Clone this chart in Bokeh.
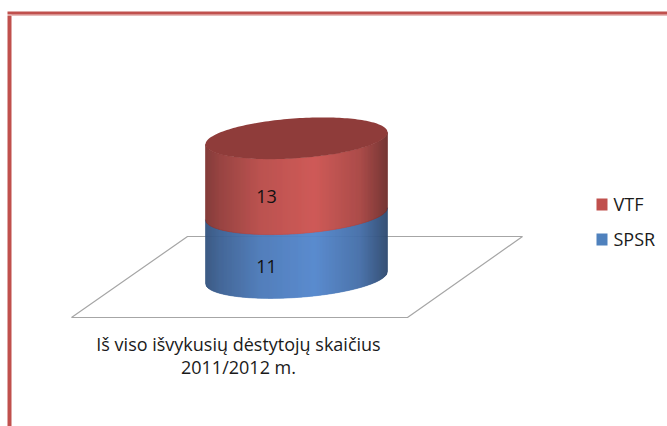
import numpy as np
from bokeh.plotting import figure
from bokeh.embed import file_html
from bokeh.resources import INLINE
from bokeh.models import Range1d
from bokeh.core.properties import value

category = ["Iš viso išvykusių dėstytojų skaičius", "2011/2012 m."]
series = ["SPSR", "VTF"]
values = [11, 13]
base_colors = [(84, 135, 205), (205, 84, 81)]
top_color = "#8f3c3a"
legend_colors = ["#4f81bd", "#c0504d"]

W, H = 667, 426
PX_PER_UNIT = 5.8
FONT = "Open Sans"
FS = "18px"

# pixel space of the page -> data space: x is page pixels, y is value units
BASE_PX = 277.0
def Y(px):
    return (BASE_PX - px) / PX_PER_UNIT

p = figure(width=W, height=H, output_backend="svg", toolbar_location=None,
           x_range=Range1d(0, 667), y_range=Range1d(Y(426), Y(0)),
           min_border=0, outline_line_color=None, tools="")
p.axis.visible = False
p.grid.visible = False
p.background_fill_color = "white"
p.border_fill_color = "white"

# frame
p.quad(left=[7], right=[11], bottom=[Y(426)], top=[Y(15)], fill_color="#c0504d", line_color=None)
p.quad(left=[7], right=[667], bottom=[Y(14)], top=[Y(11)], fill_color="#c0504d", line_color=None)
p.quad(left=[11], right=[667], bottom=[Y(15)], top=[Y(14)], fill_color="#d27b78", line_color=None)

# floor
fx = [187, 522, 407, 71, 187]
fy = [Y(v) for v in [236, 236, 317, 317, 236]]
p.line(fx, fy, line_color="#a6a6a6", line_width=1.2)

# cylinder
CX, A, B, S = 296.0, 91.0, 20.0, -0.066
xs_px = np.arange(CX - A, CX + A + 0.01, 1.0)
def shade(t):
    return np.interp(t, [0, 0.08, 0.3, 0.6, 0.85, 1], [0.62, 0.72, 0.9, 1.0, 0.82, 0.55])
def front(dx):
    return (-S * dx - B * np.sqrt(np.clip(1 - (dx / A) ** 2, 0, 1))) / PX_PER_UNIT

level = 0.0
for val, col in zip(values, base_colors):
    sx, sy, sc = [], [], []
    for x0, x1 in zip(xs_px[:-1], xs_px[1:]):
        d0, d1 = x0 - CX, x1 - CX
        t = ((x0 + x1) / 2 - xs_px[0]) / (2 * A)
        k = shade(t)
        sx.append([x0, x1, x1, x0])
        sy.append([level + front(d0), level + front(d1),
                   level + val + front(d1), level + val + front(d0)])
        sc.append("#%02x%02x%02x" % tuple(int(c * k) for c in col))
    p.patches(sx, sy, fill_color=sc, line_color=sc, line_width=0.6)
    level += val

# top face
th = np.linspace(0, 2 * np.pi, 181)
dx = A * np.cos(th)
ty = level + (-S * dx + B * np.sin(th)) / PX_PER_UNIT
p.patch(CX + dx, ty, fill_color=top_color, line_color=None)

# value labels, placed on each segment
level = 0.0
for val in values:
    p.text([266], [level + val / 2 + front(265 - CX)], text=[str(val)], text_align="center",
           text_baseline="middle", text_font=value(FONT), text_font_size=FS, text_color="#111111")
    level += val

# category label
for line, py in zip(category, [343, 366]):
    p.text([238], [Y(py)], text=[line], text_align="center", text_baseline="middle",
           text_font=value(FONT), text_font_size=FS, text_color="#1a1a1a")

# legend
for name, col, py in zip(series, legend_colors, [239, 204]):
    p.quad(left=[596], right=[607], bottom=[Y(py + 6)], top=[Y(py - 6)], fill_color=col, line_color=None)
    p.text([613], [Y(py - 1)], text=[name], text_align="left", text_baseline="middle",
           text_font=value(FONT), text_font_size=FS, text_color="#1a1a1a")

open("out.html", "w").write(file_html(p, INLINE))
